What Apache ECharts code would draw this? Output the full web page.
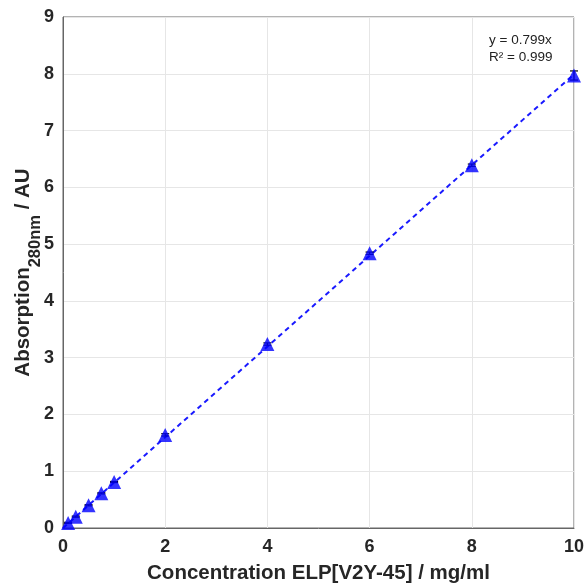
<!DOCTYPE html>
<html>
<head>
<meta charset="utf-8">
<script src="https://cdn.jsdelivr.net/npm/echarts@6/dist/echarts.min.js"></script>
<style>
  html, body { margin: 0; padding: 0; background: #fff; }
  #chart { width: 584px; height: 584px; }
</style>
</head>
<body>
<div id="chart"></div>
<script>
// measured concentrations and absorption values
const concentration = [0.1, 0.25, 0.5, 0.75, 1, 2, 4, 6, 8, 10];
const absorption = [0.09, 0.2, 0.4, 0.61, 0.81, 1.64, 3.24, 4.84, 6.39, 7.97];
const errors = [0.01, 0.01, 0.01, 0.01, 0.01, 0.02, 0.02, 0.02, 0.02, 0.08];
// linear fit y = 0.799x, endpoints
const fitX = [0, 10];
const fitY = [0, 7.99];
const fitLabel = "y = 0.799x\nR² = 0.999";

const axisFont = "'Liberation Sans', Arial, sans-serif";
const textColor = "#262626";

const chart = echarts.init(document.getElementById("chart"));

const option = {
  animation: false,
  grid: {
    show: true,
    left: 63,
    right: 10,
    top: 17,
    bottom: 56,
    outerBoundsMode: "none",
    containLabel: false,
    borderColor: "#666",
    borderWidth: 1
  },
  xAxis: {
    type: "value",
    min: 0,
    max: 10,
    interval: 2,
    name: "Concentration ELP[V2Y-45] / mg/ml",
    nameLocation: "middle",
    nameGap: 35,
    nameTextStyle: {
      fontFamily: axisFont,
      fontWeight: "bold",
      fontSize: 20.5,
      color: textColor
    },
    axisLine: { show: true, lineStyle: { color: "#666" } },
    axisTick: { show: false },
    axisLabel: {
      fontFamily: axisFont,
      fontWeight: "bold",
      fontSize: 18,
      color: textColor,
      margin: 10
    },
    splitLine: { show: true, lineStyle: { color: "#e6e6e6" } }
  },
  yAxis: {
    type: "value",
    min: 0,
    max: 9,
    interval: 1,
    name: "{main|Absorption}{sub|280nm}{main| / AU}",
    nameLocation: "middle",
    nameGap: 19,
    nameMoveOverlap: false,
    nameTextStyle: {
      color: textColor,
      rich: {
        main: {
          fontFamily: axisFont,
          fontWeight: "bold",
          fontSize: 20.5,
          color: textColor,
          lineHeight: 24,
          verticalAlign: "top"
        },
        sub: {
          fontFamily: axisFont,
          fontWeight: "bold",
          fontSize: 16.5,
          color: textColor,
          lineHeight: 31,
          verticalAlign: "bottom"
        }
      }
    },
    axisLine: { show: true, lineStyle: { color: "#666" } },
    axisTick: { show: false },
    axisLabel: {
      fontFamily: axisFont,
      fontWeight: "bold",
      fontSize: 18,
      color: textColor,
      margin: 9
    },
    splitLine: { show: true, lineStyle: { color: "#e6e6e6" } }
  },
  graphic: [
    {
      type: "text",
      left: 489,
      top: 32,
      style: {
        text: fitLabel,
        fontFamily: axisFont,
        fontSize: 13.5,
        lineHeight: 17,
        fill: "#222"
      }
    }
  ],
  series: [
    {
      name: "fit",
      type: "line",
      data: fitX.map((x, i) => [x, fitY[i]]),
      symbol: "none",
      lineStyle: { color: "#1a1aff", width: 2, type: [5, 4] },
      z: 2
    },
    {
      name: "error",
      type: "custom",
      data: concentration.map((x, i) => [x, absorption[i] - errors[i], absorption[i] + errors[i]]),
      renderItem: function(params, api) {
        const lo = api.coord([api.value(0), api.value(1)]);
        const hi = api.coord([api.value(0), api.value(2)]);
        const w = 4;
        const style = { stroke: "#000", lineWidth: 1.2 };
        return {
          type: "group",
          children: [
            { type: "line", shape: { x1: lo[0], y1: lo[1], x2: hi[0], y2: hi[1] }, style: style },
            { type: "line", shape: { x1: lo[0] - w, y1: lo[1], x2: lo[0] + w, y2: lo[1] }, style: style },
            { type: "line", shape: { x1: hi[0] - w, y1: hi[1], x2: hi[0] + w, y2: hi[1] }, style: style }
          ]
        };
      },
      z: 3
    },
    {
      name: "data",
      type: "scatter",
      data: concentration.map((x, i) => [x, absorption[i]]),
      symbol: "triangle",
      symbolSize: 14,
      itemStyle: { color: "#0000ff" },
      z: 4
    }
  ]
};

chart.setOption(option);
</script>
</body>
</html>
